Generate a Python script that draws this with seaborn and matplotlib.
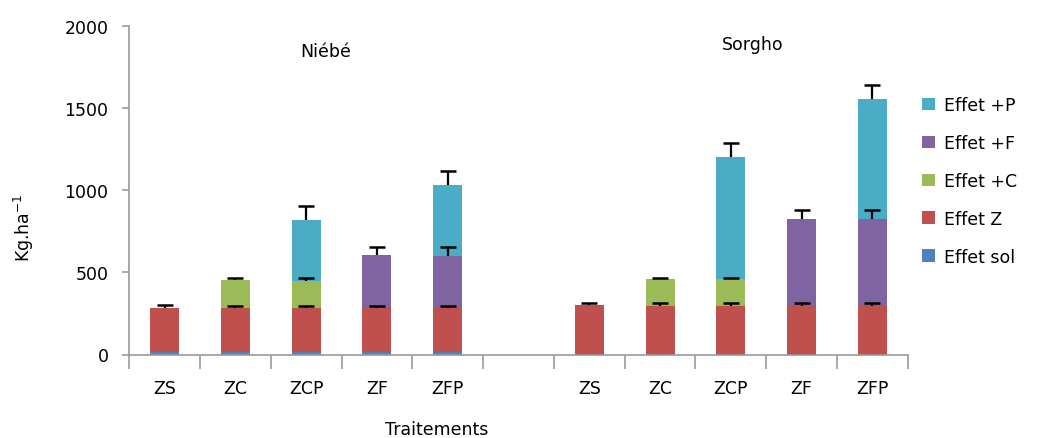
import numpy as np
import pandas as pd
import matplotlib
matplotlib.use("Agg")
import matplotlib.pyplot as plt
import seaborn as sns
from matplotlib.patches import Patch

# ---- data ----
slots = ["N-ZS", "N-ZC", "N-ZCP", "N-ZF", "N-ZFP", "gap",
         "S-ZS", "S-ZC", "S-ZCP", "S-ZF", "S-ZFP"]
tick_labels = ["ZS", "ZC", "ZCP", "ZF", "ZFP", "",
               "ZS", "ZC", "ZCP", "ZF", "ZFP"]
bars = ["N-ZS", "N-ZC", "N-ZCP", "N-ZF", "N-ZFP",
        "S-ZS", "S-ZC", "S-ZCP", "S-ZF", "S-ZFP"]
effet_sol = [15, 15, 15, 15, 15, 0, 0, 0, 0, 0]
effet_z   = [270, 270, 270, 270, 270, 300, 297, 297, 297, 297]
effet_c   = [0, 170, 165, 0, 0, 0, 163, 163, 0, 0]
effet_f   = [0, 0, 0, 320, 315, 0, 0, 0, 528, 528]
effet_p   = [0, 0, 368, 0, 432, 0, 0, 740, 0, 730]
err_z     = [15, 12, 12, 12, 12, 16, 18, 18, 18, 18]
err_c     = [0, 10, 14, 0, 0, 0, 8, 8, 0, 0]
err_f     = [0, 0, 0, 50, 56, 0, 0, 0, 57, 57]
err_p     = [0, 0, 88, 0, 83, 0, 0, 88, 0, 88]

layer_names = ["Effet sol", "Effet Z", "Effet +C", "Effet +F", "Effet +P"]
layer_vals = [effet_sol, effet_z, effet_c, effet_f, effet_p]
layer_errs = [None, err_z, err_c, err_f, err_p]
colors = {"Effet sol": "#4F81BD", "Effet Z": "#C0504D", "Effet +C": "#9BBB59",
          "Effet +F": "#8064A2", "Effet +P": "#4BACC6"}

cum = np.cumsum(np.array(layer_vals, dtype=float), axis=0)
rows = []
for li, name in enumerate(layer_names):
    for bi, b in enumerate(bars):
        rows.append({"slot": b, "layer": name, "cum": cum[li, bi]})
df = pd.DataFrame(rows)

plt.rcParams["font.family"] = ["DejaVu Sans"]
fig = plt.figure(figsize=(10.37, 4.39), dpi=100)
ax = fig.add_axes([129.3 / 1037, 1 - 355.5 / 439, (907.7 - 129.3) / 1037, (355.5 - 27) / 439])

for li in reversed(range(len(layer_names))):
    name = layer_names[li]
    sub = df[df["layer"] == name]
    sns.barplot(data=sub, x="slot", y="cum", order=slots, color=colors[name],
                width=0.41, linewidth=0, edgecolor="none", saturation=1,
                errorbar=None, ax=ax)

# error bars (upper only) at top of each segment
pos = {s: i for i, s in enumerate(slots)}
for li in range(1, len(layer_names)):
    errs = layer_errs[li]
    for bi, b in enumerate(bars):
        if layer_vals[li][bi] > 0 and errs[bi] > 0:
            cont = ax.errorbar(pos[b], cum[li, bi], yerr=[[0], [errs[bi]]], fmt="none",
                               ecolor="black", elinewidth=1.6, capsize=5.5, capthick=1.8,
                               zorder=5)
            caps = cont[1]
            if len(caps) == 2:
                low = min(caps, key=lambda c: np.min(c.get_ydata()))
                low.set_visible(False)

ax.set_xlim(-0.5, len(slots) - 0.5)
ax.set_ylim(0, 2000)
ax.set_yticks([0, 500, 1000, 1500, 2000])
ax.tick_params(axis="y", labelsize=12.5, length=5, color="#999999", width=1.2, pad=10)
ax.set_xticks(np.arange(len(slots) + 1) - 0.5)
ax.set_xticklabels([])
ax.tick_params(axis="x", which="major", length=10, color="#999999", width=1.2)
ax.set_xticks(np.arange(len(slots)), minor=True)
ax.set_xticklabels(tick_labels, minor=True)
ax.tick_params(axis="x", which="minor", length=0, labelsize=12.5, pad=18)

for sp in ["top", "right"]:
    ax.spines[sp].set_visible(False)
for sp in ["left", "bottom"]:
    ax.spines[sp].set_color("#999999")
    ax.spines[sp].set_linewidth(1.2)

ax.set_ylabel("Kg.ha$^{-1}$", fontsize=12.5)
ax.yaxis.set_label_coords(-0.12, 0.39)
ax.set_xlabel("Traitements", fontsize=12.5)
ax.xaxis.set_label_coords((437 - 129.3) / (907.7 - 129.3), -0.2)

ax.text(2.27, 1848, "Niébé", fontsize=12.5, ha="center", va="center")
ax.text(8.31, 1890, "Sorgho", fontsize=12.5, ha="center", va="center")

handles = [Patch(facecolor=colors[n], edgecolor="none", label=n) for n in reversed(layer_names)]
fig.legend(handles=handles, loc="upper left", bbox_to_anchor=(922 / 1037, 1 - 97 / 439),
           frameon=False, fontsize=12.5, handlelength=0.75, handleheight=0.75,
           handletextpad=0.5, labelspacing=1.15, borderpad=0, borderaxespad=0)

fig.savefig("out.png", dpi=100)
